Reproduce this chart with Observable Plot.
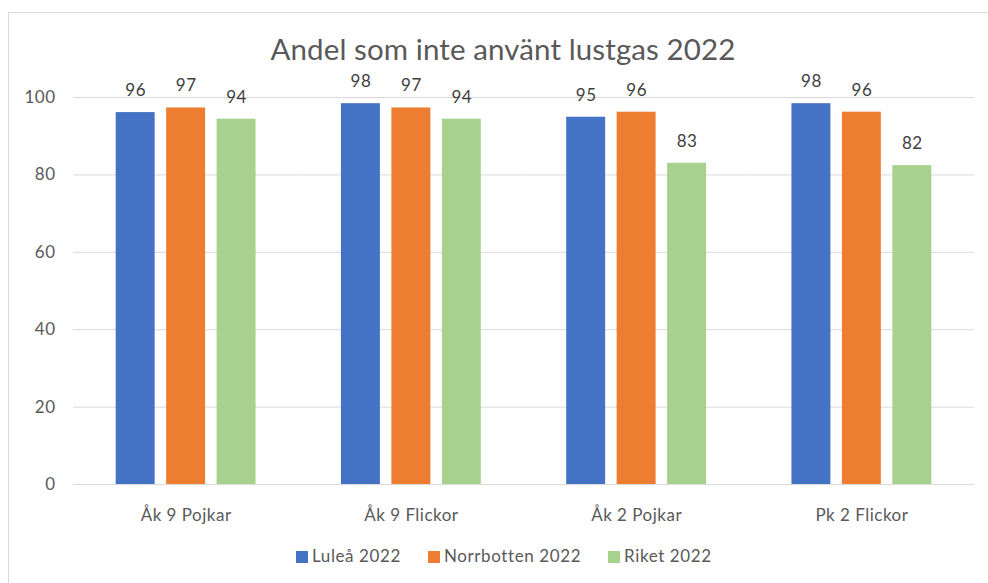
<!DOCTYPE html>
<html>
<head>
<meta charset="utf-8">
<script src="https://cdn.jsdelivr.net/npm/d3@7"></script>
<script src="https://cdn.jsdelivr.net/npm/@observablehq/plot@0.6"></script>
<style>
  html, body { margin: 0; padding: 0; background: #fff; }
  body { width: 988px; height: 583px; position: relative; overflow: hidden; font-family: Lato, "Open Sans", sans-serif; }
  #frame { position: absolute; left: 8px; top: 12px; width: 990px; height: 580px; border-top: 1px solid #d9d9d9; border-left: 1px solid #d9d9d9; }
  #title { position: absolute; left: 0; top: 31px; width: 1006px; text-align: center; font-size: 29.5px; color: #595959; line-height: 1.2; white-space: nowrap; letter-spacing: 0.1px; }
  #chart { position: absolute; left: 0; top: 0; }
  #legend { position: absolute; left: 296px; top: 546px; display: flex; gap: 27px; font-size: 17px; letter-spacing: 0.6px; color: #595959; line-height: 1.2; white-space: nowrap; }
  .item { display: flex; align-items: center; }
  .sw { width: 12px; height: 12px; margin-right: 4px; margin-top: 1px; }
</style>
</head>
<body>
<div id="frame"></div>
<div id="chart"></div>
<div id="title">Andel som inte använt lustgas 2022</div>
<div id="legend"></div>
<script>
const categories = ["Åk 9 Pojkar", "Åk 9 Flickor", "Åk 2 Pojkar", "Pk 2 Flickor"];
const seriesNames = ["Luleå 2022", "Norrbotten 2022", "Riket 2022"];
const lulea = [96.1, 98.4, 94.9, 98.4];
const norrbotten = [97.3, 97.3, 96.2, 96.2];
const riket = [94.4, 94.4, 83.0, 82.4];
const colors = ["#4472C4", "#ED7D31", "#A9D18E"];
const yTicks = [0, 20, 40, 60, 80, 100];

const seriesValues = [lulea, norrbotten, riket];
const data = [];
categories.forEach((c, i) => {
  seriesNames.forEach((s, j) => {
    data.push({category: c, series: s, value: seriesValues[j][i]});
  });
});

const chart = Plot.plot({
  width: 988,
  height: 583,
  marginLeft: 73,
  marginRight: 14,
  marginTop: 97,
  marginBottom: 99,
  style: {fontFamily: "Lato, 'Open Sans', sans-serif", fontSize: "17px", color: "#595959", background: "transparent", letterSpacing: "0.5px"},
  fx: {domain: categories, padding: 0, round: false, axis: "bottom", label: null, tickSize: 0, tickPadding: 24},
  x: {domain: seriesNames, paddingInner: 0.228, paddingOuter: 0.846, round: false, axis: null},
  y: {domain: [0, 100], ticks: yTicks, tickSize: 0, tickPadding: 18, label: null},
  color: {domain: seriesNames, range: colors},
  marks: [
    Plot.ruleY(yTicks, {stroke: "#d9d9d9", strokeWidth: 1}),
    Plot.barY(data, {fx: "category", x: "series", y: "value", fill: "series"}),
    Plot.text(data, {fx: "category", x: "series", y: "value", text: d => String(Math.round(d.value)), dy: -22, fill: "#404040", fontSize: 17})
  ]
});
document.getElementById("chart").appendChild(chart);

const legend = document.getElementById("legend");
seriesNames.forEach((s, i) => {
  const item = document.createElement("div");
  item.className = "item";
  const sw = document.createElement("div");
  sw.className = "sw";
  sw.style.background = colors[i];
  const t = document.createElement("span");
  t.textContent = s;
  item.appendChild(sw);
  item.appendChild(t);
  legend.appendChild(item);
});
</script>
</body>
</html>
